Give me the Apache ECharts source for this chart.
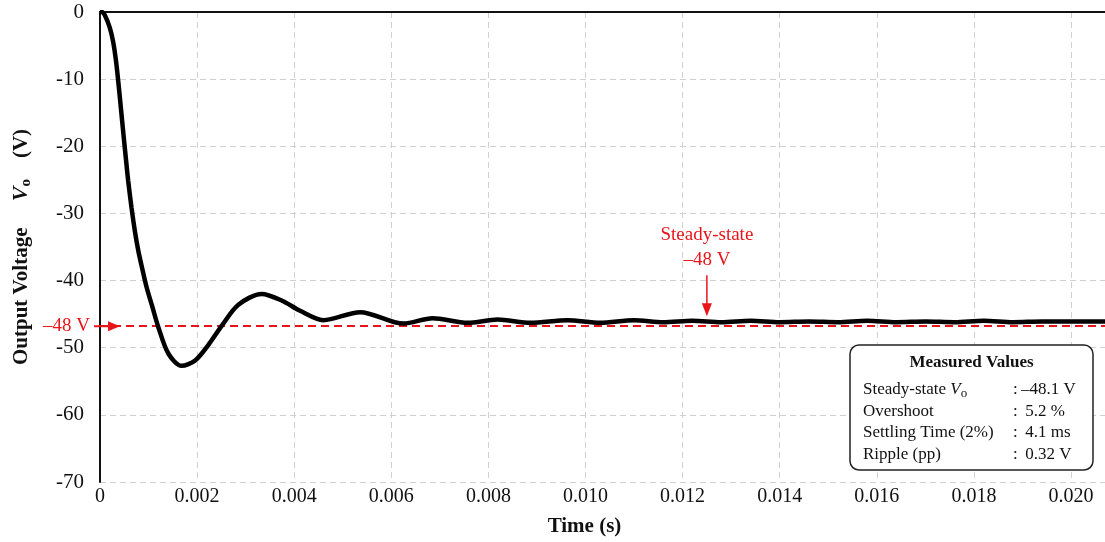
<!DOCTYPE html>
<html>
<head>
<meta charset="utf-8">
<script src="https://cdn.jsdelivr.net/npm/echarts@6/dist/echarts.min.js"></script>
<style>
    html, body { margin: 0; padding: 0; background: #fff; }
    #main { width: 1105px; height: 542px; }
</style>
</head>
<body>
<div id="main"></div>
<script>
// 读图得到的数据
var timeS = [0, 0.00004, 0.0001, 0.0002, 0.00027, 0.00033, 0.00038, 0.00043, 0.00048, 0.00053,
    0.00058, 0.00065, 0.00072, 0.00079, 0.00086, 0.00096, 0.00107, 0.0012, 0.00141, 0.00168,
    0.00196, 0.00223, 0.00251, 0.00285, 0.00333, 0.00375, 0.00412, 0.0046, 0.00536, 0.00625,
    0.00685, 0.00757, 0.00819, 0.00887, 0.00963, 0.0103, 0.011, 0.0116, 0.0122, 0.0128,
    0.0134, 0.014, 0.0146, 0.0152, 0.0158, 0.0164, 0.017, 0.0176, 0.0182, 0.0188,
    0.0194, 0.02, 0.0207];
var voltV = [0, 0, -0.5, -2.3, -4.4, -7.3, -10.6, -14.3, -18.0, -21.6,
    -25.1, -29.2, -32.7, -35.6, -37.9, -41.0, -43.7, -46.9, -50.9, -52.7,
    -51.9, -49.6, -46.7, -43.6, -42.0, -43.0, -44.5, -45.9, -44.7, -46.4,
    -45.6, -46.3, -45.8, -46.3, -45.9, -46.3, -45.9, -46.2, -46.0, -46.2,
    -46.0, -46.2, -46.1, -46.2, -46.0, -46.2, -46.1, -46.2, -46.0, -46.2,
    -46.1, -46.1, -46.1];
var xTicks = ['0', '0.002', '0.004', '0.006', '0.008', '0.010', '0.012', '0.014', '0.016', '0.018', '0.020'];
var refLine = -46.8;          // 红色参考虚线（图中标注 -48 V）
var arrowT = 0.0125;          // 稳态箭头位置
var measuredNames = ['Steady-state ', 'Overshoot', 'Settling Time (2%)', 'Ripple (pp)'];
var measuredValues = ['\u201348.1 V', ' 5.2 %', ' 4.1 ms', ' 0.32 V'];

var serif = '"Liberation Serif", "DejaVu Serif", serif';
var red = '#e8141a';

(function () {
    var myChart = echarts.init(document.getElementById('main'));
    var points = timeS.map(function (t, i) { return [t, voltV[i]]; });

    var option = {
        animation: false,
        grid: { left: 100, top: 12, right: 0, bottom: 57 },
        xAxis: [{
            type: 'value',
            min: 0,
            max: 0.0207,
            interval: 0.002,
            name: 'Time (s)',
            nameLocation: 'middle',
            nameGap: 34,
            nameTextStyle: { fontFamily: serif, fontWeight: 'bold', fontSize: 21, color: '#111', padding: [0, 36, 0, 0] },
            axisLine: { lineStyle: { color: '#111', width: 2 } },
            axisTick: { show: false },
            axisLabel: {
                fontFamily: serif, fontSize: 20, color: '#111', margin: 5,
                showMaxLabel: false,
                formatter: function (v) { return xTicks[Math.round(v / 0.002)] || ''; }
            },
            splitLine: { lineStyle: { color: '#d0d0d0', type: [6, 4], width: 1 } }
        }, {
            type: 'value',
            position: 'top',
            min: 0,
            max: 0.0207,
            axisLine: { show: true, lineStyle: { color: '#111', width: 2 } },
            axisTick: { show: false },
            axisLabel: { show: false },
            splitLine: { show: false }
        }],
        yAxis: {
            type: 'value',
            min: -70,
            max: 0,
            interval: 10,
            name: '{t|Output Voltage}     {v|V}{s|o}    {t|(V)}',
            nameLocation: 'middle',
            nameGap: 66,
            nameTextStyle: {
                color: '#111',
                fontFamily: serif,
                fontSize: 21,
                rich: {
                    t: { fontFamily: serif, fontWeight: 'bold', fontSize: 21, color: '#111' },
                    v: { fontFamily: serif, fontStyle: 'italic', fontWeight: 'bold', fontSize: 22, color: '#111' },
                    s: { fontFamily: serif, fontWeight: 'bold', fontSize: 15, color: '#111', padding: [10, 0, 0, 0] }
                }
            },
            axisLine: { show: true, lineStyle: { color: '#111', width: 2 } },
            axisTick: { show: false },
            axisLabel: { fontFamily: serif, fontSize: 21, color: '#111', margin: 16 },
            splitLine: { lineStyle: { color: '#d0d0d0', type: [6, 4], width: 1 } }
        },
        series: [{
            type: 'line',
            data: points,
            smooth: 0.3,
            showSymbol: false,
            lineStyle: { color: '#000', width: 4.5 },
            z: 3,
            markLine: {
                silent: true,
                symbol: ['none', 'none'],
                label: { show: false },
                lineStyle: { color: red, type: [8, 5], width: 2 },
                data: [{ yAxis: refLine }],
                z: 2
            }
        }]
    };
    myChart.setOption(option);

    // 标注：左侧 -48 V 箭头、稳态箭头、测量值框
    var p0 = myChart.convertToPixel({ xAxisIndex: 0, yAxisIndex: 0 }, [0, refLine]);
    var pTop = myChart.convertToPixel({ xAxisIndex: 0, yAxisIndex: 0 }, [arrowT, -39.2]);
    var pTip = myChart.convertToPixel({ xAxisIndex: 0, yAxisIndex: 0 }, [arrowT, -45.3]);

    var boxL = 850, boxT = 345, boxW = 243, boxH = 125;
    var boxItems = [
        { type: 'rect', shape: { x: boxL, y: boxT, width: boxW, height: boxH, r: 9 },
          style: { fill: '#fff', stroke: '#222', lineWidth: 1.5 }, z: 100 },
        { type: 'text', x: boxL + boxW / 2, y: boxT + 18, z: 101,
          style: { text: 'Measured Values', font: 'bold 17px ' + serif, fill: '#111', align: 'center', verticalAlign: 'middle' } }
    ];
    measuredNames.forEach(function (name, i) {
        var y = boxT + 45 + i * 21.5;
        boxItems.push({ type: 'text', x: boxL + 13, y: y, z: 101,
            style: i === 0 ? {
                text: '{n|' + name + '}{v|V}{s|o}',
                rich: {
                    n: { font: '17px ' + serif, fill: '#111' },
                    v: { font: 'italic 17px ' + serif, fill: '#111' },
                    s: { font: '13px ' + serif, fill: '#111', padding: [8, 0, 0, 0] }
                },
                verticalAlign: 'middle'
            } : { text: name, font: '17px ' + serif, fill: '#111', verticalAlign: 'middle' } });
        boxItems.push({ type: 'text', x: boxL + 163, y: y, z: 101,
            style: { text: ':', font: '17px ' + serif, fill: '#111', verticalAlign: 'middle' } });
        boxItems.push({ type: 'text', x: boxL + (i === 0 ? 171 : 171), y: y, z: 101,
            style: { text: measuredValues[i], font: '17px ' + serif, fill: '#111', verticalAlign: 'middle' } });
    });

    myChart.setOption({
        graphic: [
            { type: 'text', x: p0[0] - 10, y: p0[1], z: 50,
              style: { text: '\u201348 V', font: '19px ' + serif, fill: red, align: 'right', verticalAlign: 'middle' } },
            { type: 'line', shape: { x1: p0[0] - 6, y1: p0[1], x2: p0[0] + 12, y2: p0[1] }, z: 50,
              style: { stroke: red, lineWidth: 2 } },
            { type: 'polygon', shape: { points: [[p0[0] + 20, p0[1]], [p0[0] + 8, p0[1] - 5], [p0[0] + 8, p0[1] + 5]] }, z: 50,
              style: { fill: red } },
            { type: 'text', x: pTop[0], y: pTop[1] - 40, z: 50,
              style: { text: 'Steady-state', font: '19px ' + serif, fill: red, align: 'center', verticalAlign: 'middle' } },
            { type: 'text', x: pTop[0], y: pTop[1] - 15, z: 50,
              style: { text: '\u201348 V', font: '19px ' + serif, fill: red, align: 'center', verticalAlign: 'middle' } },
            { type: 'line', shape: { x1: pTop[0], y1: pTop[1], x2: pTip[0], y2: pTip[1] - 10 }, z: 50,
              style: { stroke: red, lineWidth: 1.5 } },
            { type: 'polygon', shape: { points: [[pTip[0], pTip[1]], [pTip[0] - 5, pTip[1] - 13], [pTip[0] + 5, pTip[1] - 13]] }, z: 50,
              style: { fill: red } }
        ].concat(boxItems)
    });

    window.addEventListener('resize', function () {
        myChart.resize();
    });
})();
</script>
</body>
</html>
